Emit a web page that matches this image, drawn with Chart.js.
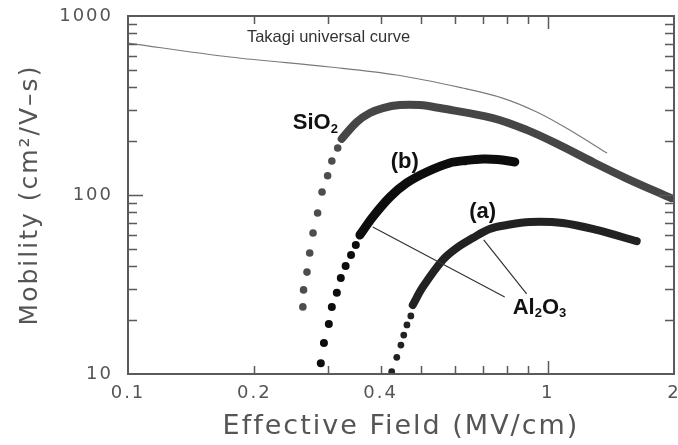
<!DOCTYPE html>
<html>
<head>
<meta charset="utf-8">
<script src="https://cdn.jsdelivr.net/npm/chart.js@4.4.1/dist/chart.umd.min.js"></script>
<style>
  html, body { margin: 0; padding: 0; background: #fff; }
</style>
</head>
<body>
<canvas id="myChart" width="678" height="445"></canvas>
<script>
// values (field in MV/cm, mobility in cm2/V-s)
const takagiField = [0.1, 0.175, 0.303, 0.437, 0.627, 0.781, 0.942, 1.128, 1.382];
const takagiMobility = [706, 590, 519, 468, 396, 348, 291, 231, 172];

const sio2DotField = [0.261, 0.262, 0.267, 0.271, 0.276, 0.283, 0.290, 0.299, 0.306, 0.316];
const sio2DotMobility = [23.7, 29.5, 37.1, 47.4, 61.3, 79.3, 104, 128, 155, 183];
const sio2BandField = [0.323, 0.351, 0.377, 0.405, 0.444, 0.496, 0.553, 0.740, 0.891, 1.068, 1.28, 1.54, 1.97];
const sio2BandMobility = [206, 256, 287, 306, 318, 318, 306, 269, 231, 190, 153, 124, 96];

const bDotField = [0.288, 0.293, 0.301, 0.306, 0.3145, 0.3214, 0.330, 0.340, 0.349];
const bDotMobility = [11.5, 14.9, 19.0, 23.7, 28.4, 34.4, 40.1, 46.2, 52.6];
const bBandField = [0.357, 0.383, 0.421, 0.462, 0.515, 0.584, 0.640, 0.700, 0.760, 0.835];
const bBandMobility = [59.8, 75.4, 97.5, 117, 134.5, 151, 156, 159, 158, 153];

const aDotField = [0.425, 0.437, 0.447, 0.454, 0.462, 0.472];
const aDotMobility = [10.3, 12.4, 14.5, 16.5, 18.8, 21.1];
const aBandField = [0.477, 0.504, 0.562, 0.607, 0.663, 0.727, 0.80, 0.906, 1.086, 1.308, 1.63];
const aBandMobility = [24.3, 30.6, 43.3, 50.6, 57.5, 64.6, 68, 70.7, 69.8, 63.8, 55.2];

const xTickLabels = [0.1, 0.2, 0.4, 1, 2];
const yTickLabels = [10, 100, 1000];

const pts = (xs, ys) => xs.map((v, i) => ({x: v, y: ys[i]}));
const near = (v, list) => list.some(l => Math.abs(v - l) < l * 1e-6);
const isDecade = v => Math.abs(Math.log10(v) - Math.round(Math.log10(v))) < 1e-6;
const oneDigit = v => {
    const s = v / Math.pow(10, Math.floor(Math.log10(v) + 1e-9));
    return Math.abs(s - Math.round(s)) < 1e-6;
};

const tickFont = {family: "'DejaVu Sans', sans-serif", size: 18};

// frame and inward tick marks on all four sides
const frameTicks = {
    id: 'frameTicks',
    beforeDraw(chart) {
        chart.ctx.letterSpacing = '2px';
    },
    afterDatasetsDraw(chart) {
        const {ctx, chartArea: a, scales: {x, y}} = chart;
        ctx.save();
        ctx.strokeStyle = '#5a5a5a';
        ctx.lineWidth = 1.5;
        ctx.beginPath();
        x.ticks.forEach(t => {
            const px = Math.round(x.getPixelForValue(t.value)) + 0.5;
            if (px <= a.left + 2 || px >= a.right - 2) return;
            const len = isDecade(t.value) ? 13 : 8;
            ctx.moveTo(px, a.bottom); ctx.lineTo(px, a.bottom - len);
            ctx.moveTo(px, a.top); ctx.lineTo(px, a.top + len);
        });
        y.ticks.forEach(t => {
            const py = Math.round(y.getPixelForValue(t.value)) + 0.5;
            if (py <= a.top + 2 || py >= a.bottom - 2) return;
            const len = isDecade(t.value) ? 15 : 9;
            ctx.moveTo(a.left, py); ctx.lineTo(a.left + len, py);
            ctx.moveTo(a.right, py); ctx.lineTo(a.right - len, py);
        });
        ctx.stroke();
        ctx.lineWidth = 2;
        ctx.strokeRect(a.left, a.top, a.right - a.left, a.bottom - a.top);
        ctx.restore();
    }
};

// text labels and leader lines, placed in data coordinates
const notes = {
    id: 'notes',
    afterDraw(chart) {
        const {ctx, scales: {x, y}} = chart;
        const px = v => x.getPixelForValue(v);
        const py = v => y.getPixelForValue(v);
        ctx.save();
        ctx.letterSpacing = '0px';

        ctx.strokeStyle = '#333';
        ctx.lineWidth = 1.2;
        ctx.beginPath();
        ctx.moveTo(px(0.383), py(66.3)); ctx.lineTo(px(0.790), py(26.9));
        ctx.moveTo(px(0.704), py(56.1)); ctx.lineTo(px(0.891), py(28.0));
        ctx.stroke();

        ctx.textBaseline = 'middle';
        ctx.fillStyle = '#333';
        ctx.font = "16.5px 'Liberation Sans', Arial, sans-serif";
        ctx.fillText('Takagi universal curve', px(0.192), py(754));

        ctx.fillStyle = '#111';
        const big = "bold 22px 'Liberation Sans', Arial, sans-serif";
        const small = "bold 13px 'Liberation Sans', Arial, sans-serif";
        const run = (parts, x0, y0) => {
            let cx = x0;
            parts.forEach(([t, sub]) => {
                ctx.font = sub ? small : big;
                ctx.fillText(t, cx, sub ? y0 + 6 : y0);
                cx += ctx.measureText(t).width;
            });
        };
        run([['SiO', 0], ['2', 1]], px(0.247), py(252));
        run([['Al', 0], ['2', 1], ['O', 0], ['3', 1]], px(0.8255), py(23.4));
        ctx.textAlign = 'center';
        ctx.font = big;
        ctx.fillText('(b)', px(0.4565), py(153));
        ctx.fillText('(a)', px(0.700), py(80.4));
        ctx.restore();
    }
};

const dots = (data, color, r) => ({
    data, showLine: false, pointRadius: r, pointBorderWidth: 0,
    pointBackgroundColor: color, pointBorderColor: color
});
const band = (data, color, w) => ({
    data, showLine: true, pointRadius: 0, borderColor: color, borderWidth: w,
    borderCapStyle: 'round', borderJoinStyle: 'round', tension: 0.35
});

const ctx = document.getElementById('myChart').getContext('2d');
const myChart = new Chart(ctx, {
    type: 'scatter',
    data: {
        datasets: [
            band(pts(takagiField, takagiMobility), '#7a7a7a', 1.2),
            dots(pts(sio2DotField, sio2DotMobility), '#4d4d4d', 3.8),
            band(pts(sio2BandField, sio2BandMobility), '#464646', 8),
            dots(pts(bDotField, bDotMobility), '#0d0d0d', 4),
            band(pts(bBandField, bBandMobility), '#0d0d0d', 9),
            dots(pts(aDotField, aDotMobility), '#222', 3.4),
            band(pts(aBandField, aBandMobility), '#222', 8)
        ]
    },
    options: {
        responsive: false,
        animation: false,
        layout: {padding: {top: 16, right: 3, left: 0, bottom: 0}},
        scales: {
            x: {
                type: 'logarithmic',
                min: 0.1,
                max: 2,
                grid: {display: false, drawTicks: false},
                border: {display: false},
                afterBuildTicks: s => { s.ticks = s.ticks.filter(t => oneDigit(t.value)); },
                afterFit: s => { s.height = 71; s.paddingLeft = 0; s.paddingRight = 0; },
                ticks: {
                    autoSkip: false,
                    maxRotation: 0,
                    padding: 9,
                    color: '#555',
                    font: tickFont,
                    callback: v => near(v, xTickLabels) ? String(v) : ''
                },
                title: {
                    display: true,
                    text: 'Effective Field (MV/cm)',
                    color: '#555',
                    font: {family: "'DejaVu Sans', sans-serif", size: 27},
                    padding: {top: 0, bottom: 2}
                }
            },
            y: {
                type: 'logarithmic',
                min: 10,
                max: 1000,
                grid: {display: false, drawTicks: false},
                border: {display: false},
                afterBuildTicks: s => { s.ticks = s.ticks.filter(t => oneDigit(t.value)); },
                afterFit: s => { s.width = 128; s.paddingTop = 0; s.paddingBottom = 0; },
                ticks: {
                    autoSkip: false,
                    padding: 15,
                    color: '#555',
                    font: tickFont,
                    callback: v => near(v, yTickLabels) ? String(v) : ''
                },
                title: {
                    display: true,
                    text: 'Mobility (cm\u00B2/V\u2013s)',
                    color: '#555',
                    font: {family: "'DejaVu Sans', sans-serif", size: 25},
                    padding: {top: 15, bottom: 0}
                }
            }
        },
        plugins: {
            legend: {display: false},
            tooltip: {enabled: false}
        }
    },
    plugins: [frameTicks, notes]
});
</script>
</body>
</html>
